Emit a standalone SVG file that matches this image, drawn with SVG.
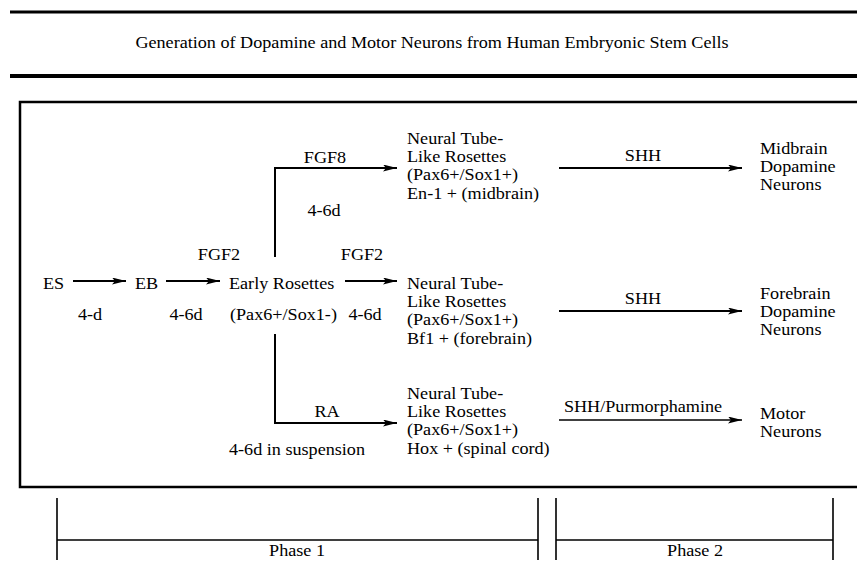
<svg xmlns="http://www.w3.org/2000/svg" width="857" height="579" viewBox="0 0 857 579" font-family="'Liberation Serif', 'Times New Roman', serif">
<style>
text{font-family:'Liberation Serif','Times New Roman',serif;font-size:16.5px;fill:#000}
.m{text-anchor:middle}
.ln{stroke:#000;stroke-width:2;fill:none}
.thin{stroke:#000;stroke-width:1.6;fill:none}
</style>
<defs>
<marker id="ah" markerUnits="userSpaceOnUse" markerWidth="15" markerHeight="8" refX="14" refY="3.5" orient="auto">
<path d="M0,0 L14,3.5 L0,7 L3,3.5 z" fill="#000"/>
</marker>
</defs>
<rect width="857" height="579" fill="#fff"/>
<g id="header">
<line x1="10" y1="12" x2="857" y2="12" stroke="#000" stroke-width="3"/>
<text class="m" font-family="Liberation Serif, serif" transform="matrix(1.1 0 0 1 432 48)">Generation of Dopamine and Motor Neurons from Human Embryonic Stem Cells</text>
<line x1="10" y1="76" x2="857" y2="76" stroke="#000" stroke-width="4"/>
</g>
<rect id="frame" x="20" y="102" width="860" height="385" fill="none" stroke="#000" stroke-width="2.5"/>
<g id="connectors">
<path class="ln" d="M73,281 H126" marker-end="url(#ah)"/>
<path class="ln" d="M166,281 H220" marker-end="url(#ah)"/>
<path class="ln" d="M275,257 V168 H397" marker-end="url(#ah)"/>
<path class="ln" d="M345,281 H397" marker-end="url(#ah)"/>
<path class="ln" d="M275,334 V423 H397" marker-end="url(#ah)"/>
<path class="ln" d="M559,168 H742" marker-end="url(#ah)"/>
<path class="ln" d="M559,311 H742" marker-end="url(#ah)"/>
<path class="thin" d="M559,420 H742" marker-end="url(#ah)"/>
</g>
<g id="edge-labels" font-family="Liberation Serif, serif">
<text class="m" transform="matrix(1.1 0 0 1 90 319.5)">4-d</text>
<text class="m" transform="matrix(1.1 0 0 1 186 319.5)">4-6d</text>
<text class="m" transform="matrix(1.1 0 0 1 219 259.5)">FGF2</text>
<text class="m" transform="matrix(1.1 0 0 1 325 162.5)">FGF8</text>
<text class="m" transform="matrix(1.1 0 0 1 324 215.5)">4-6d</text>
<text class="m" transform="matrix(1.1 0 0 1 362 259.5)">FGF2</text>
<text class="m" transform="matrix(1.1 0 0 1 365 319.5)">4-6d</text>
<text class="m" transform="matrix(1.1 0 0 1 327 416.5)">RA</text>
<text transform="matrix(1.1 0 0 1 229 454.5)">4-6d in suspension</text>
<text class="m" transform="matrix(1.1 0 0 1 643 160.5)">SHH</text>
<text class="m" transform="matrix(1.1 0 0 1 643 303.5)">SHH</text>
<text class="m" transform="matrix(1.1 0 0 1 643 411.5)">SHH/Purmorphamine</text>
</g>
<g id="es"><text transform="matrix(1.1 0 0 1 43 288.5)">ES</text></g>
<g id="eb"><text transform="matrix(1.1 0 0 1 135 288.5)">EB</text></g>
<g id="early-rosettes">
<text transform="matrix(1.1 0 0 1 229 288.5)">Early Rosettes</text>
<text transform="matrix(1.1 0 0 1 230 319.5)">(Pax6+/Sox1-)</text>
</g>
<g id="ntr-midbrain">
<text transform="matrix(1.1 0 0 1 407 143.5)"><tspan x="0" y="0">Neural Tube-</tspan><tspan x="0" dy="18.5">Like Rosettes</tspan><tspan x="0" dy="18.5">(Pax6+/Sox1+)</tspan><tspan x="0" dy="18.5">En-1 + (midbrain)</tspan></text>
</g>
<g id="ntr-forebrain">
<text transform="matrix(1.1 0 0 1 407 288.5)"><tspan x="0" y="0">Neural Tube-</tspan><tspan x="0" dy="18.5">Like Rosettes</tspan><tspan x="0" dy="18.5">(Pax6+/Sox1+)</tspan><tspan x="0" dy="18.5">Bf1 + (forebrain)</tspan></text>
</g>
<g id="ntr-spinal">
<text transform="matrix(1.1 0 0 1 407 398.5)"><tspan x="0" y="0">Neural Tube-</tspan><tspan x="0" dy="18.5">Like Rosettes</tspan><tspan x="0" dy="18.5">(Pax6+/Sox1+)</tspan><tspan x="0" dy="18.5">Hox + (spinal cord)</tspan></text>
</g>
<g id="midbrain-da">
<text transform="matrix(1.1 0 0 1 760 153.5)"><tspan x="0" y="0">Midbrain</tspan><tspan x="0" dy="18.5">Dopamine</tspan><tspan x="0" dy="18.5">Neurons</tspan></text>
</g>
<g id="forebrain-da">
<text transform="matrix(1.1 0 0 1 760 298.5)"><tspan x="0" y="0">Forebrain</tspan><tspan x="0" dy="18.5">Dopamine</tspan><tspan x="0" dy="18.5">Neurons</tspan></text>
</g>
<g id="motor">
<text transform="matrix(1.1 0 0 1 760 418.5)"><tspan x="0" y="0">Motor</tspan><tspan x="0" dy="18.5">Neurons</tspan></text>
</g>
<g id="phases">
<path class="thin" d="M57,498 V560 M538,498 V560 M556,498 V560 M833,498 V560 M57,540 H538 M556,540 H833"/>
<text class="m" transform="matrix(1.1 0 0 1 297 556)">Phase 1</text>
<text class="m" transform="matrix(1.1 0 0 1 695 556)">Phase 2</text>
</g>
</svg>
